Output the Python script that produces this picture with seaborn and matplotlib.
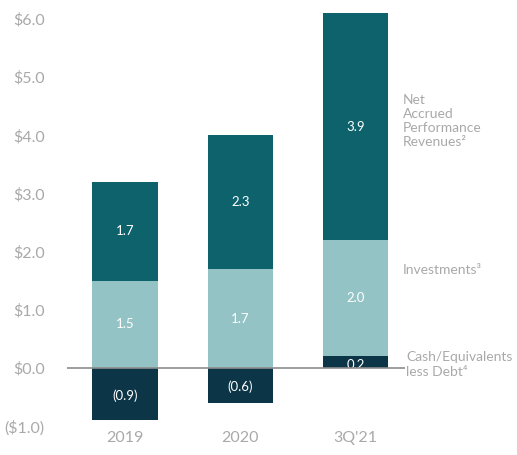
import numpy as np
import pandas as pd
import matplotlib
matplotlib.use("Agg")
import matplotlib.pyplot as plt
import seaborn as sns

# Data
periods = ["2019", "2020", "3Q'21"]
cash_less_debt = [-0.9, -0.6, 0.2]
investments = [1.5, 1.7, 2.0]
net_accrued = [1.7, 2.3, 3.9]
y_ticks = [-1, 0, 1, 2, 3, 4, 5, 6]
y_tick_labels = ["($1.0)", "$0.0", "$1.0", "$2.0", "$3.0", "$4.0", "$5.0", "$6.0"]

c_net = "#0d626b"
c_inv = "#94c3c5"
c_cash = "#0c3547"
c_text = "#a9a9a9"

sns.set_style("white")
plt.rcParams["font.family"] = ["Lato", "DejaVu Sans"]

df = pd.DataFrame({"period": periods, "cash": cash_less_debt,
                   "inv": investments, "net": net_accrued})
pos_cash = df["cash"].clip(lower=0)
df["top_net"] = pos_cash + df["inv"] + df["net"]
df["top_inv"] = pos_cash + df["inv"]

fig = plt.figure(figsize=(5.17, 4.55), dpi=100)
ax = fig.add_axes([0.1296, 0.0569, 0.654, 0.927])

# Stacked bars drawn back to front
w = 0.565
for col, c in [("top_net", c_net), ("top_inv", c_inv), ("cash", c_cash)]:
    sns.barplot(data=df, x="period", y=col, color=c, width=w, saturation=1,
                linewidth=0, ax=ax)

# Segment labels
for i, row in df.iterrows():
    base = max(row["cash"], 0)
    ax.text(i, base + row["inv"] + row["net"] / 2, f"{row['net']:.1f}",
            ha="center", va="center", color="white", fontsize=9.5)
    ax.text(i, base + row["inv"] / 2, f"{row['inv']:.1f}",
            ha="center", va="center", color="white", fontsize=9.5)
    c = row["cash"]
    lbl = f"({abs(c):.1f})" if c < 0 else f"{c:.1f}"
    off = -0.02 if c < 0 else -0.05
    ax.text(i, c / 2 + off, lbl, ha="center", va="center", color="white", fontsize=9.5)

ax.axhline(0, color="#8c8c8c", lw=1.2, zorder=5)

ax.set_xlim(-0.503, 2.43)
ax.set_ylim(-1.05, 6.2)
ax.set_yticks(y_ticks)
ax.set_yticklabels(y_tick_labels)
ax.set_xlabel("")
ax.set_ylabel("")
ax.tick_params(axis="y", length=0, pad=16, labelsize=11.5, labelcolor=c_text)
ax.tick_params(axis="x", length=0, pad=1.5, labelsize=11.5, labelcolor=c_text)
sns.despine(ax=ax, left=True, bottom=True)

# Series labels on the right
ax.text(2.41, 4.24, "Net\nAccrued\nPerformance\nRevenues\u00b2", ha="left", va="center",
        color=c_text, fontsize=10, linespacing=1.2)
ax.text(2.41, 1.68, "Investments\u00b3", ha="left", va="center", color=c_text, fontsize=10)
ax.text(2.44, 0.06, "Cash/Equivalents\nless Debt\u2074", ha="left", va="center",
        color=c_text, fontsize=10, linespacing=1.3)

fig.savefig("out.png", dpi=100)
